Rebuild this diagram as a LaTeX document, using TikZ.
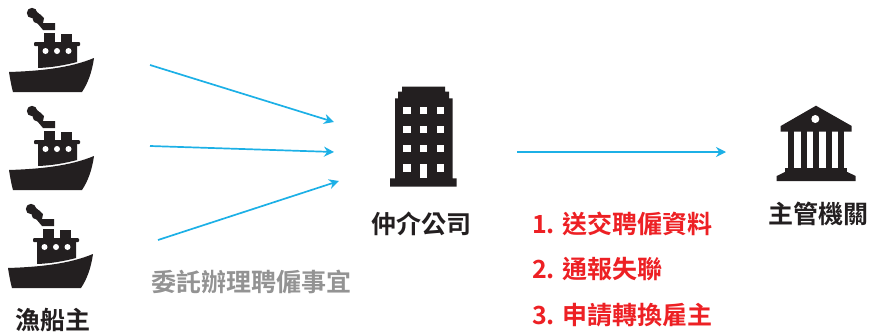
\documentclass[tikz,border=0pt]{standalone}
\usepackage{fontspec}
\newfontfamily\cjk{Noto Sans CJK TC}[BoldFont={Noto Sans CJK TC Bold}]
\usetikzlibrary{arrows.meta}
\definecolor{ink}{HTML}{231F20}
\definecolor{flow}{HTML}{1CB0E6}
\definecolor{alert}{HTML}{ED2024}
\definecolor{note}{HTML}{939393}
\tikzset{
  x=1pt,y=-1pt,
  link/.style={flow,line width=1.7pt,-{Stealth[length=10pt,width=10pt]}},
  lbl/.style={inner sep=0pt,font=\cjk\bfseries\fontsize{25}{29}\selectfont,text=ink},
  redlbl/.style={lbl,anchor=west,text=alert},
  greylbl/.style={lbl,text=note},
  ship/.pic={
    \fill[ink] (32,13) circle (5.2);
    \fill[ink] (37.5,18.5) circle (5);
    \fill[ink] (31,16) -- (36,11) -- (44,18) -- (43,23) -- (55,23) -- (55,30) -- (43,30) -- (38,24) -- cycle;
    \fill[ink] (44,33) rectangle (55,43);
    \fill[ink] (61,34) rectangle (72,43);
    \fill[ink,rounded corners=1pt] (34,42) rectangle (80,46);
    \fill[ink] (38,45) -- (77,45) -- (77,62) .. controls (64,65.5) and (51,67.5) .. (38,68) -- cycle;
    \foreach \wx in {45.5,57,68.5} \fill[white] (\wx,51) circle (3);
    \fill[ink] (9,72) .. controls (40,71) and (70,68) .. (94,58)
      .. controls (92,72) and (88,83) .. (82,92) -- (13,92) .. controls (11,85) and (10,78) .. (9,72) -- cycle;
  },
}
\begin{document}
\begin{tikzpicture}
\useasboundingbox (0,0) rectangle (870,332);
% ships
\pic at (0,0) {ship};
\pic at (0,98) {ship};
\pic at (-1,196) {ship};
% agency building
\fill[ink] (402,86.7) -- (445,86.7) -- (445,91.7) -- (449,91.7) -- (449,98.3) -- (452.7,98.3) -- (452.7,178.3) -- (456.7,178.3) -- (456.7,186.7) -- (390,186.7) -- (390,178.3) -- (395,178.3) -- (395,98.3) -- (398,98.3) -- (398,91.7) -- (402,91.7) -- cycle;
\foreach \bx in {407,423.7,440.3} \foreach \by in {110.8,129.6,148.6}
  \fill[white] (\bx,\by) +(-3.7,-3.6) rectangle +(3.7,3.6);
\fill[white] (403.3,164.3) rectangle (410.7,171.7);
\fill[white] (436.6,164.3) rectangle (444,171.7);
\fill[white] (420,164.3) rectangle (427.3,178.3);
% government building
\fill[ink] (816,105.7) -- (851.7,126) -- (851.7,131.7) -- (780.7,131.7) -- (780.7,126) -- cycle;
\fill[white] (815.3,119) circle (4);
\foreach \cx in {788.3,800.7,813.3,825.7,838.2} \fill[ink] (\cx,131) rectangle (\cx+6,169);
\fill[ink] (785,168.3) rectangle (847.3,173);
\fill[ink] (785,172) -- (847.3,172) -- (855.7,176) -- (855.7,181) -- (776.7,181) -- (776.7,176) -- cycle;
% labels
\node[lbl] (fisher) at (53,320) {漁船主};
\node[greylbl] (task) at (251,282) {委託辦理聘僱事宜};
\node[lbl] (agency) at (421.5,224) {仲介公司};
\node[lbl] (gov) at (818,214) {主管機關};
\node[redlbl] (r1) at (532,224) {1. 送交聘僱資料};
\node[redlbl] (r2) at (532,269) {2. 通報失聯};
\node[redlbl] (r3) at (532,315) {3. 申請轉換雇主};
% connectors
\coordinate (s1) at (150,65);
\coordinate (s2) at (150,146);
\coordinate (s3) at (158,240);
\coordinate (a1) at (334,122);
\coordinate (a2) at (334,152);
\coordinate (a3) at (339,181);
\coordinate (ao) at (517,152);
\coordinate (gi) at (726,152);
\draw[link] (s1) -- (a1);
\draw[link] (s2) -- (a2);
\draw[link] (s3) -- (a3);
\draw[link] (ao) -- (gi);
\end{tikzpicture}
\end{document}
